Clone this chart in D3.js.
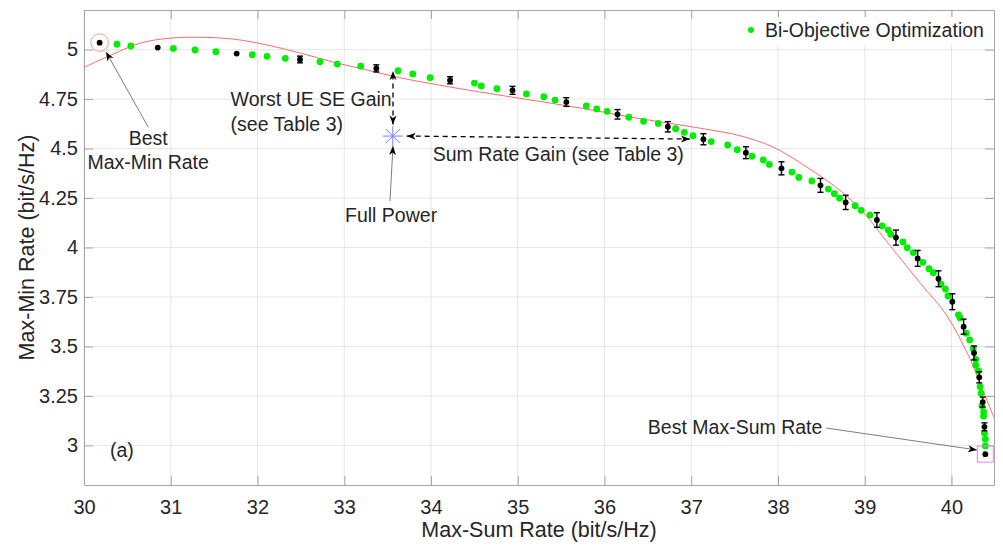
<!DOCTYPE html>
<html>
<head>
<meta charset="utf-8">
<script src="https://cdn.jsdelivr.net/npm/d3@7"></script>
<style>
  body { margin: 0; background: #fff; }
  text { font-family: "Liberation Sans", Arial, sans-serif; fill: #262626; }
</style>
</head>
<body>
<svg id="chart" width="1003" height="546"></svg>
<script>
// black points with error bars
const blackX = [30.18, 30.85, 31.76, 32.49, 33.37, 34.22, 34.94, 35.56, 36.15, 36.73, 37.14, 37.63, 38.04,
  38.49, 38.78, 39.14, 39.36, 39.61, 39.85, 40.01, 40.14, 40.26, 40.32, 40.36, 40.38, 40.39];
const blackY = [5.035, 5.01, 4.98, 4.95, 4.905, 4.845, 4.794, 4.735, 4.673, 4.61, 4.547, 4.479, 4.40,
  4.314, 4.228, 4.139, 4.05, 3.945, 3.842, 3.726, 3.60, 3.467, 3.344, 3.219, 3.094, 2.956];
const blackErr = [0, 0, 0, 0.017, 0.018, 0.018, 0.02, 0.022, 0.024, 0.026, 0.028, 0.03, 0.033,
  0.035, 0.036, 0.037, 0.038, 0.04, 0.04, 0.04, 0.038, 0.035, 0.028, 0.025, 0.02, 0];

// bi-objective optimization (green)
const greenX = [30.38, 30.54, 31.03, 31.28, 31.52, 31.94, 32.11, 32.32, 32.72, 32.92, 33.19, 33.62, 33.79,
  33.99, 34.50, 34.58, 34.76, 35.10, 35.30, 35.43, 35.79, 35.91, 36.03, 36.28, 36.45, 36.62, 36.82,
  36.92, 37.02, 37.23, 37.42, 37.53, 37.70, 37.83, 37.90, 38.16, 38.24, 38.39, 38.58, 38.65, 38.71,
  38.89, 38.96, 39.06, 39.20, 39.27, 39.30, 39.44, 39.49, 39.56, 39.67, 39.74, 39.79, 39.88, 39.93,
  39.96, 40.08, 40.10, 40.17, 40.21, 40.25, 40.28, 40.28, 40.31, 40.33, 40.34, 40.35, 40.37, 40.37,
  40.38, 40.39, 40.39];
const greenY = [5.027, 5.018, 5.006, 4.998, 4.989, 4.974, 4.966, 4.956, 4.939, 4.927, 4.916, 4.893, 4.877,
  4.858, 4.831, 4.816, 4.802, 4.776, 4.762, 4.745, 4.715, 4.70, 4.688, 4.658, 4.638, 4.627, 4.60,
  4.582, 4.565, 4.535, 4.518, 4.494, 4.461, 4.442, 4.42, 4.381, 4.354, 4.336, 4.295, 4.272, 4.249,
  4.211, 4.188, 4.164, 4.109, 4.088, 4.067, 4.028, 3.999, 3.974, 3.925, 3.893, 3.873, 3.815, 3.79,
  3.755, 3.66, 3.644, 3.567, 3.533, 3.49, 3.435, 3.406, 3.376, 3.296, 3.263, 3.20, 3.17, 3.148,
  3.061, 3.031, 2.997];

// red curve
const fitX = [30.0, 30.3, 30.65, 31.0, 31.35, 31.72, 32.11, 32.49, 32.87, 33.26, 33.64, 34.1, 34.56, 35.15,
  35.72, 36.29, 36.87, 37.22, 37.56, 37.94, 38.33, 38.71, 38.98, 39.29, 39.64, 39.94, 40.21, 40.35, 40.5];
const fitY = [4.91, 4.97, 5.033, 5.058, 5.062, 5.053, 5.023, 4.983, 4.937, 4.897, 4.858, 4.82, 4.786, 4.745,
  4.705, 4.66, 4.619, 4.594, 4.565, 4.508, 4.407, 4.29, 4.18, 4.01, 3.82, 3.66, 3.44, 3.29, 3.13];

const fullPower = [33.56, 4.563];

const xTicks = [30, 31, 32, 33, 34, 35, 36, 37, 38, 39, 40];
const xTickLabels = ["30", "31", "32", "33", "34", "35", "36", "37", "38", "39", "40"];
const yTicks = [3, 3.25, 3.5, 3.75, 4, 4.25, 4.5, 4.75, 5];
const yTickLabels = ["3", "3.25", "3.5", "3.75", "4", "4.25", "4.5", "4.75", "5"];

const svg = d3.select('#chart');
const margin = { left: 84, right: 8, top: 10, bottom: 61 };
const W = 1003, H = 546;

const x = d3.scaleLinear().domain([30, 40.49]).range([margin.left, W - margin.right - 1]);
const y = d3.scaleLinear().domain([2.8, 5.2]).range([H - margin.bottom, margin.top]);

const x0 = x.range()[0], x1 = x.range()[1], y0 = y.range()[0], y1 = y.range()[1];

svg.append('rect').attr('width', W).attr('height', H).attr('fill', '#fff');

svg.append('defs').append('clipPath').attr('id', 'clip')
  .append('rect').attr('x', x0).attr('y', y1).attr('width', x1 - x0).attr('height', y0 - y1);

const defs = svg.select('defs');
defs.append('marker')
  .attr('id', 'head').attr('markerUnits', 'userSpaceOnUse')
  .attr('viewBox', '-10 -5 12 10').attr('refX', 0).attr('refY', 0)
  .attr('markerWidth', 12).attr('markerHeight', 10).attr('orient', 'auto-start-reverse')
  .append('path').attr('d', 'M0,0 L-9,-3.5 L-6.5,0 L-9,3.5 Z').attr('fill', '#000');

// grid
svg.append('g').selectAll('line').data(xTicks).join('line')
  .attr('x1', d => x(d)).attr('x2', d => x(d)).attr('y1', y0).attr('y2', y1)
  .attr('stroke', '#e6e6e6').attr('stroke-width', 1);
svg.append('g').selectAll('line').data(yTicks).join('line')
  .attr('x1', x0).attr('x2', x1).attr('y1', d => y(d)).attr('y2', d => y(d))
  .attr('stroke', '#e6e6e6').attr('stroke-width', 1);

// axes
const axisCol = '#a6a6a6';
const xAxis = svg.append('g').attr('transform', `translate(0,${y0})`)
  .call(d3.axisBottom(x).tickValues(xTicks).tickFormat((d, i) => xTickLabels[i]).tickSizeInner(-9).tickSizeOuter(0).tickPadding(15));
const yAxis = svg.append('g').attr('transform', `translate(${x0},0)`)
  .call(d3.axisLeft(y).tickValues(yTicks).tickFormat((d, i) => yTickLabels[i]).tickSizeInner(-9).tickSizeOuter(0).tickPadding(6));
const xTop = svg.append('g').attr('transform', `translate(0,${y1})`)
  .call(d3.axisTop(x).tickValues(xTicks).tickFormat('').tickSizeInner(-9).tickSizeOuter(0));
const yRight = svg.append('g').attr('transform', `translate(${x1},0)`)
  .call(d3.axisRight(y).tickValues(yTicks).tickFormat('').tickSizeInner(-9).tickSizeOuter(0));
[xAxis, yAxis, xTop, yRight].forEach(g => {
  g.selectAll('path, line').attr('stroke', axisCol);
  g.selectAll('text').attr('fill', '#262626').style('font-size', '20px')
    .style('font-family', '"Liberation Sans", Arial, sans-serif');
});

// legend background
svg.append('rect').attr('x', 738).attr('y', 17).attr('width', 254).attr('height', 27).attr('fill', '#fff');

const plot = svg.append('g').attr('clip-path', 'url(#clip)');

// red curve
plot.append('path')
  .datum(fitX.map((d, i) => [d, fitY[i]]))
  .attr('d', d3.line().x(d => x(d[0])).y(d => y(d[1])).curve(d3.curveCatmullRom))
  .attr('fill', 'none').attr('stroke', '#ff6b6b').attr('stroke-width', 1);

// green points
plot.append('g').selectAll('circle').data(greenX.map((d, i) => [d, greenY[i]])).join('circle')
  .attr('cx', d => x(d[0])).attr('cy', d => y(d[1])).attr('r', 3.4).attr('fill', '#00ee00');

// black points with error bars
const bl = plot.append('g').selectAll('g').data(blackX.map((d, i) => [d, blackY[i], blackErr[i]])).join('g');
bl.filter(d => d[2] > 0).each(function (d) {
  const g = d3.select(this);
  const cx = x(d[0]), yt = y(d[1] + d[2]), yb = y(d[1] - d[2]);
  g.append('line').attr('x1', cx).attr('x2', cx).attr('y1', yt).attr('y2', yb);
  g.append('line').attr('x1', cx - 3).attr('x2', cx + 3).attr('y1', yt).attr('y2', yt);
  g.append('line').attr('x1', cx - 3).attr('x2', cx + 3).attr('y1', yb).attr('y2', yb);
  g.selectAll('line').attr('stroke', '#000').attr('stroke-width', 1.4);
});
bl.append('circle').attr('cx', d => x(d[0])).attr('cy', d => y(d[1])).attr('r', 2.9).attr('fill', '#000');

// highlight circle / square
svg.append('circle').attr('cx', x(blackX[0])).attr('cy', y(blackY[0])).attr('r', 8.8)
  .attr('fill', 'none').attr('stroke', '#f2a384').attr('stroke-width', 1);
svg.append('rect').attr('x', x(blackX[25]) - 8).attr('y', y(blackY[25]) - 8).attr('width', 16).attr('height', 16)
  .attr('fill', 'none').attr('stroke', '#f27ef2').attr('stroke-width', 1);

// full power star
const sx = x(fullPower[0]), sy = y(fullPower[1]);
const star = svg.append('g').attr('stroke', '#7b7bff').attr('stroke-width', 1);
[0, 45, 90, 135].forEach(a => {
  const r = 10, c = Math.cos(a * Math.PI / 180) * r, s = Math.sin(a * Math.PI / 180) * r;
  star.append('line').attr('x1', sx - c).attr('y1', sy - s).attr('x2', sx + c).attr('y2', sy + s);
});

// annotation arrows
function arrow(p, q, opts) {
  const l = svg.append('line')
    .attr('x1', x(p[0])).attr('y1', y(p[1])).attr('x2', x(q[0])).attr('y2', y(q[1]))
    .attr('stroke', opts.color).attr('stroke-width', opts.width)
    .attr('marker-end', 'url(#head)');
  if (opts.dash) l.attr('stroke-dasharray', opts.dash);
  if (opts.both) l.attr('marker-start', 'url(#head)');
}
arrow([30.74, 4.609], [30.254, 4.988], { color: '#6e6e6e', width: 0.9 });
arrow([33.527, 4.235], [33.562, 4.513], { color: '#6e6e6e', width: 0.9 });
arrow([33.562, 4.622], [33.562, 4.892], { color: '#000', width: 1.3, dash: '5,4', both: true });
arrow([33.72, 4.563], [36.985, 4.548], { color: '#000', width: 1.3, dash: '5,4', both: true });
arrow([38.553, 3.088], [40.294, 2.977], { color: '#6e6e6e', width: 0.9 });

// annotation texts
const notes = [
  { t: 'Worst UE SE Gain', x: 31.69, y: 4.713, a: 'start' },
  { t: '(see Table 3)', x: 31.69, y: 4.587, a: 'start' },
  { t: 'Best', x: 30.74, y: 4.517, a: 'middle' },
  { t: 'Max-Min Rate', x: 30.74, y: 4.395, a: 'middle' },
  { t: 'Full Power', x: 33.54, y: 4.127, a: 'middle' },
  { t: 'Sum Rate Gain (see Table 3)', x: 34.02, y: 4.435, a: 'start' },
  { t: 'Best Max-Sum Rate', x: 36.5, y: 3.06, a: 'start' },
  { t: '(a)', x: 30.3, y: 2.944, a: 'start' }
];
svg.append('g').selectAll('text').data(notes).join('text')
  .attr('x', d => x(d.x)).attr('y', d => y(d.y)).attr('text-anchor', d => d.a)
  .style('font-size', '19.5px').attr('fill', '#000').text(d => d.t);

// legend
svg.append('circle').attr('cx', 751).attr('cy', 30).attr('r', 3).attr('fill', '#00ee00');
svg.append('text').attr('x', 765).attr('y', 37).style('font-size', '19.5px').attr('fill', '#000')
  .text('Bi-Objective Optimization');

// axis labels
svg.append('text').attr('x', (x0 + x1) / 2).attr('y', 537).attr('text-anchor', 'middle')
  .style('font-size', '21.5px').text('Max-Sum Rate (bit/s/Hz)');
svg.append('text').attr('transform', `translate(34,${(y0 + y1) / 2}) rotate(-90)`).attr('text-anchor', 'middle')
  .style('font-size', '21.5px').text('Max-Min Rate (bit/s/Hz)');
</script>
</body>
</html>
